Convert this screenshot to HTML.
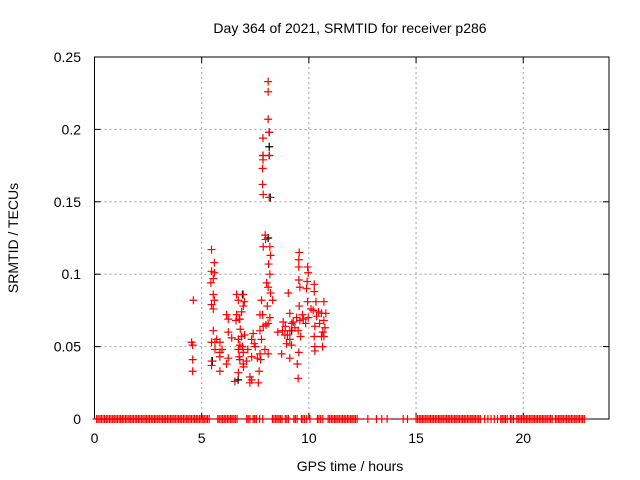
<!DOCTYPE html>
<html><head><meta charset="utf-8"><style>
html,body{margin:0;padding:0;background:#fff;}
svg{display:block;font-family:"Liberation Sans",sans-serif;}
</style></head><body>
<svg id="chart" width="640" height="480" viewBox="0 0 640 480">
<text x="350" y="33" font-size="14" text-anchor="middle" fill="#000">Day 364 of 2021, SRMTID for receiver p286</text>
<text x="350" y="471" font-size="14" text-anchor="middle" fill="#000">GPS time / hours</text>
<text x="18" y="238" font-size="14" text-anchor="middle" fill="#000" transform="rotate(-90 18 238)">SRMTID / TECUs</text>
<g id="grid"></g>
<g id="axes"></g>
<g id="marks"></g>
</svg>
<script>
const xTicks = [0, 5, 10, 15, 20];
const yTicks = [0, 0.05, 0.1, 0.15, 0.2, 0.25];
const yTickLabels = ["0", "0.05", "0.1", "0.15", "0.2", "0.25"];
const blackHours = [8.15, 8.15, 7.86, 8.15, 8.2, 6.9, 6.7, 8.1, 5.5, 9.2];
const blackValues = [0.198, 0.188, 0.182, 0.182, 0.153, 0.086, 0.027, 0.125, 0.040, 0.061];
const redHours = [8.10,8.10,8.10,8.15,7.86,7.86,8.15,7.86,7.84,7.84,7.87,8.15,
 7.96,7.98,7.87,8.18,5.46,9.55,8.21,5.59,9.53,8.12,9.94,9.53,5.46,5.59,8.18,9.97,5.54,9.53,9.92,5.43,8.03,10.25,8.10,9.58,9.89,10.25,9.04,8.21,
 4.61,5.54,5.59,5.46,5.54,6.63,6.94,6.71,6.99,6.94,6.86,6.78,7.79,8.06,7.84,8.31,6.16,6.24,6.63,6.60,6.75,
 10.33,10.70,9.94,10.20,10.59,10.79,10.36,10.70,10.28,10.75,10.70,10.25,10.59,
 9.55,9.11,9.43,9.74,9.97,9.58,9.27,8.80,8.77,9.11,9.50,9.61,8.88,9.11,8.96,9.19,8.73,9.11,9.53,9.46,9.50,10.28,10.64,10.28,
 7.72,8.18,8.10,7.87,7.72,7.40,7.33,7.79,6.86,6.71,6.78,6.71,6.94,6.75,6.78,6.94,6.71,7.25,7.33,7.25,7.64,7.68,7.75,7.72,7.95,8.10,7.33,7.09,6.55,
 6.24,5.54,5.46,5.62,5.85,5.62,5.85,5.85,5.46,5.46,5.85,6.24,6.16,
 4.53,4.58,4.58,4.58,
 6.80,6.90,7.00,7.50,7.60,8.00,8.90,9.00,9.20,9.35,9.70,9.85,10.10,10.45,10.50,10.65,6.40,6.95,7.15,7.45,5.70,5.95,8.55];
const redValues = [0.233,0.226,0.207,0.198,0.194,0.182,0.182,0.179,0.173,0.162,0.155,0.153,
 0.127,0.124,0.119,0.119,0.117,0.115,0.113,0.108,0.110,0.107,0.105,0.105,0.102,0.101,0.100,0.101,0.097,0.096,0.095,0.094,0.094,0.093,0.091,0.091,0.090,0.088,0.087,0.087,
 0.082,0.086,0.082,0.079,0.076,0.086,0.086,0.082,0.081,0.078,0.074,0.069,0.082,0.078,0.072,0.082,0.072,0.069,0.072,0.068,0.069,
 0.081,0.081,0.081,0.075,0.073,0.073,0.071,0.068,0.064,0.063,0.057,0.057,0.057,
 0.078,0.073,0.070,0.069,0.070,0.068,0.067,0.067,0.061,0.061,0.061,0.057,0.058,0.055,0.052,0.051,0.045,0.042,0.046,0.038,0.028,0.050,0.050,0.047,
 0.072,0.070,0.066,0.064,0.061,0.059,0.055,0.055,0.057,0.055,0.051,0.048,0.046,0.043,0.041,0.038,0.032,0.029,0.027,0.025,0.025,0.033,0.041,0.045,0.048,0.045,0.043,0.040,0.026,
 0.060,0.061,0.053,0.053,0.053,0.048,0.046,0.043,0.040,0.037,0.033,0.042,0.038,
 0.053,0.051,0.041,0.033,
 0.062,0.050,0.058,0.050,0.042,0.065,0.064,0.058,0.066,0.063,0.072,0.066,0.076,0.074,0.066,0.060,0.056,0.036,0.048,0.052,0.055,0.048,0.060];
const zeroHours = [0.1,0.17,0.25,0.32,0.4,0.47,0.55,0.62,0.7,0.77,0.85,0.92,1.0,1.07,1.15,1.22,1.3,1.37,1.45,1.52,1.6,1.67,1.75,1.82,1.9,1.97,2.05,2.12,2.2,2.27,2.35,2.42,2.5,2.57,2.65,2.72,2.8,2.87,2.95,3.02,3.1,3.17,3.25,3.32,3.4,3.47,3.55,3.62,3.7,3.77,3.85,3.92,4.0,4.07,4.15,4.22,4.3,4.37,4.45,4.52,4.6,4.67,4.75,4.82,4.9,4.97,5.05,5.12,5.2,5.27,5.35,
 5.75,5.82,5.9,5.97,6.05,6.12,6.2,6.27,6.35,6.42,6.5,6.57,6.65,7.1,7.17,7.25,7.4,7.47,7.55,7.7,7.85,8.3,8.37,8.45,8.52,8.6,8.67,8.75,8.9,8.97,9.05,9.3,9.37,9.45,9.65,9.72,9.8,9.9,10.05,10.4,10.47,10.55,10.65,
 10.9,10.97,11.05,11.12,11.2,11.27,11.35,11.42,11.5,11.57,11.65,11.72,11.8,11.87,11.95,12.02,12.1,12.17,12.25,12.75,13.15,13.4,13.65,14.4,14.6,
 15.0,15.07,15.15,15.22,15.3,15.37,15.45,15.52,15.6,15.67,15.75,15.82,15.9,15.97,16.05,16.12,16.2,16.27,16.35,16.42,16.5,16.57,16.65,16.72,16.8,16.87,16.95,17.02,17.1,17.17,17.25,17.32,17.4,17.47,17.55,17.62,17.7,17.77,17.85,17.92,18.0,
 18.2,18.35,18.5,18.65,18.8,18.95,19.02,19.1,19.17,19.25,19.4,19.47,19.55,19.7,19.77,19.85,19.92,20.0,20.07,20.15,20.22,20.3,20.37,20.45,20.52,20.6,20.67,20.75,20.82,20.9,20.97,21.05,21.12,21.2,21.27,21.35,21.5,21.57,21.65,21.72,21.8,21.87,21.95,22.02,22.1,22.17,22.25,22.32,22.4,22.47,22.55,22.62,22.7,22.77,22.85];

const X0 = 94.5, X1 = 609, Y0 = 419, Y1 = 57;
const xMax = 24, yMax = 0.25;
function sx(h){ return X0 + (h / xMax) * (X1 - X0); }
function sy(v){ return Y0 - (v / yMax) * (Y0 - Y1); }
const NS = "http://www.w3.org/2000/svg";
function mk(tag, attrs, parent){ const e = document.createElementNS(NS, tag); for (const k in attrs) e.setAttribute(k, attrs[k]); parent.appendChild(e); return e; }
const grid = document.getElementById('grid'), axes = document.getElementById('axes'), marks = document.getElementById('marks');

xTicks.forEach((t) => {
  const x = sx(t);
  if (t > 0) {
    const g = mk('line', {x1:x, y1:Y0, x2:x, y2:Y1, stroke:'#a0a0a0', 'stroke-dasharray':'2,3', 'stroke-width':1}, grid);
    
    
  }
  mk('line', {x1:x, y1:Y0, x2:x, y2:Y0-6, stroke:'#000'}, axes);
  mk('line', {x1:x, y1:Y1, x2:x, y2:Y1+6, stroke:'#000'}, axes);
  const tx = mk('text', {x:x, y:443, 'font-size':14, 'text-anchor':'middle'}, axes);
  tx.textContent = String(t);
  
  
});
yTicks.forEach((t, i) => {
  const y = sy(t);
  if (t > 0 && t < yMax) {
    const g = mk('line', {x1:X0, y1:y, x2:X1, y2:y, stroke:'#a0a0a0', 'stroke-dasharray':'2,3', 'stroke-width':1}, grid);
    
    
  }
  mk('line', {x1:X0, y1:y, x2:X0+6, y2:y, stroke:'#000'}, axes);
  mk('line', {x1:X1, y1:y, x2:X1-6, y2:y, stroke:'#000'}, axes);
  const tx = mk('text', {x:81, y:y+5, 'font-size':14, 'text-anchor':'end'}, axes);
  tx.textContent = yTickLabels[i];
  
  
});
const frame = mk('rect', {x:X0, y:Y1, width:X1-X0, height:Y0-Y1, fill:'none', stroke:'#000', 'stroke-width':1}, axes);



function plus(h, v, color){
  const x = sx(h), y = sy(v);
  return mk('path', {d:`M${x-4},${y}H${x+4}M${x},${y-4}V${y+4}`, stroke:color, 'stroke-width':1.2, fill:'none'}, marks);
}
blackHours.forEach((h, i) => {
  const p = plus(h, blackValues[i], '#000');
  
  
});
redHours.forEach((h, i) => {
  const p = plus(h, redValues[i], '#ff0000');
  
  
});
zeroHours.forEach((h) => {
  const p = plus(h, 0, '#ff0000');
  
  
});
</script>
</body></html>
